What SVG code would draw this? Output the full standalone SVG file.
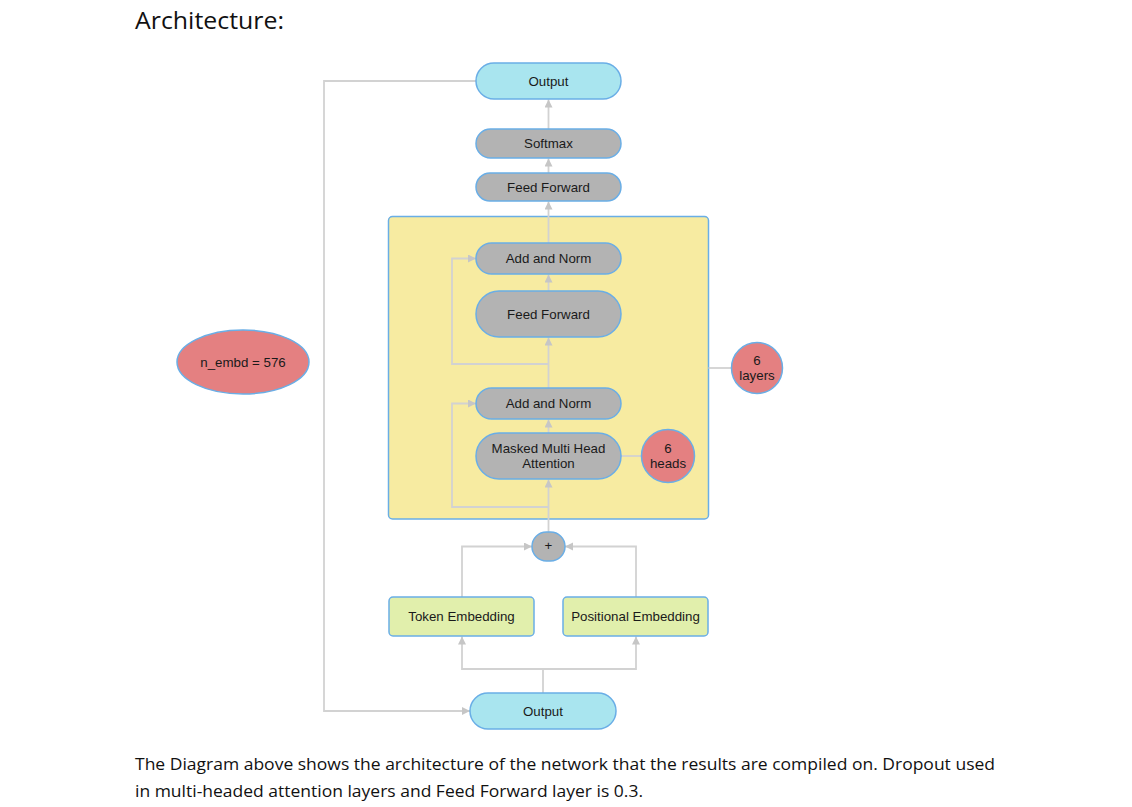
<svg xmlns="http://www.w3.org/2000/svg" width="1132" height="807" viewBox="0 0 1132 807">
<defs>
<style>
.lbl{font-family:"Liberation Sans",Arial,sans-serif;font-size:13.3px;fill:#1a1a1a;text-anchor:middle}
.body{font-family:"Open Sans","Noto Sans","Liberation Sans",sans-serif;fill:#111}
.cyan{fill:#a9e5ef;stroke:#6aaee6;stroke-width:1.5}
.gray{fill:#b3b3b3;stroke:#6aaee6;stroke-width:1.5}
.green{fill:#e1efac;stroke:#6aaee6;stroke-width:1.5}
.red{fill:#e48081;stroke:#6aaee6;stroke-width:1.5}
.yellow{fill:#f7eba1;stroke:#6aaee6;stroke-width:1.5}
.con{fill:none;stroke:#d2d2d2;stroke-width:1.8}
</style>
<marker id="arr" markerUnits="userSpaceOnUse" markerWidth="9" markerHeight="9" refX="8" refY="4" orient="auto">
<path d="M0,0 L8,4 L0,8 z" fill="#c6c6c6"/>
</marker>
</defs>
<rect width="1132" height="807" fill="#fff"/>
<text class="body" x="135" y="29" font-size="24" textLength="149" lengthAdjust="spacingAndGlyphs">Architecture:</text>

<g id="box-layers"><rect class="yellow" x="388.5" y="216.5" width="320" height="302.5" rx="4"/></g>

<g id="connectors">
<path class="con" d="M548.5,129 V99.5" marker-end="url(#arr)"/>
<path class="con" d="M548.5,173 V158.5" marker-end="url(#arr)"/>
<path class="con" d="M548.5,243 V201.5" marker-end="url(#arr)"/>
<path class="con" d="M548.5,291 V274.5" marker-end="url(#arr)"/>
<path class="con" d="M548.5,388 V337.5" marker-end="url(#arr)"/>
<path class="con" d="M548.5,433 V419.5" marker-end="url(#arr)"/>
<path class="con" d="M548.5,532 V479.5" marker-end="url(#arr)"/>
<path class="con" d="M548.5,364 H452 V258.5 H476" marker-end="url(#arr)"/>
<path class="con" d="M548.5,507 H452 V403.5 H476" marker-end="url(#arr)"/>
<path class="con" d="M708.5,368 H731.5"/>
<path class="con" d="M621,456 H641.5"/>
<path class="con" d="M462,597 V546.5 H532" marker-end="url(#arr)"/>
<path class="con" d="M636,597 V546.5 H565" marker-end="url(#arr)"/>
<path class="con" d="M543,693 V669 H462 V636.5" marker-end="url(#arr)"/>
<path class="con" d="M543,669 H636 V636.5" marker-end="url(#arr)"/>
<path class="con" d="M476,81 H324 V711 H470" marker-end="url(#arr)"/>
</g>

<g id="output-top"><rect class="cyan" x="476" y="63" width="145" height="36" rx="18"/><text class="lbl" x="548.5" y="85.5">Output</text></g>
<g id="softmax"><rect class="gray" x="476" y="129" width="145" height="29" rx="14.5"/><text class="lbl" x="548.5" y="148">Softmax</text></g>
<g id="ff-top"><rect class="gray" x="476" y="173" width="145" height="28" rx="14"/><text class="lbl" x="548.5" y="191.5">Feed Forward</text></g>
<g id="addnorm-1"><rect class="gray" x="476" y="243" width="145" height="31" rx="15.5"/><text class="lbl" x="548.5" y="263">Add and Norm</text></g>
<g id="ff-inner"><rect class="gray" x="476" y="291" width="145" height="46" rx="23"/><text class="lbl" x="548.5" y="318.5">Feed Forward</text></g>
<g id="addnorm-2"><rect class="gray" x="476" y="388" width="145" height="31" rx="15.5"/><text class="lbl" x="548.5" y="408">Add and Norm</text></g>
<g id="mmha"><rect class="gray" x="476" y="433" width="145" height="46" rx="23"/><text class="lbl" x="548.5" y="453">Masked Multi Head</text><text class="lbl" x="548.5" y="468">Attention</text></g>
<g id="heads"><circle class="red" cx="668" cy="456" r="26.5"/><text class="lbl" x="668" y="453">6</text><text class="lbl" x="668" y="468">heads</text></g>
<g id="layers"><circle class="red" cx="757" cy="368" r="25.5"/><text class="lbl" x="757" y="365">6</text><text class="lbl" x="757" y="380">layers</text></g>
<g id="n-embd"><ellipse class="red" cx="243" cy="362" rx="66" ry="32"/><text class="lbl" x="243" y="366.5">n_embd = 576</text></g>
<g id="plus"><rect class="gray" x="532" y="532" width="33" height="29" rx="14.5"/><text class="lbl" x="548.5" y="550" font-size="10">+</text></g>
<g id="token-emb"><rect class="green" x="389" y="597" width="145" height="39" rx="4"/><text class="lbl" x="461.5" y="621">Token Embedding</text></g>
<g id="pos-emb"><rect class="green" x="563" y="597" width="145" height="39" rx="4"/><text class="lbl" x="635.5" y="621">Positional Embedding</text></g>
<g id="output-bottom"><rect class="cyan" x="470" y="693" width="146" height="36" rx="18"/><text class="lbl" x="543" y="715.5">Output</text></g>

<text class="body" x="135" y="770" font-size="16.5" textLength="860" lengthAdjust="spacingAndGlyphs">The Diagram above shows the architecture of the network that the results are compiled on. Dropout used</text>
<text class="body" x="135" y="797" font-size="16.5" textLength="508" lengthAdjust="spacingAndGlyphs">in multi-headed attention layers and Feed Forward layer is 0.3.</text>
</svg>
